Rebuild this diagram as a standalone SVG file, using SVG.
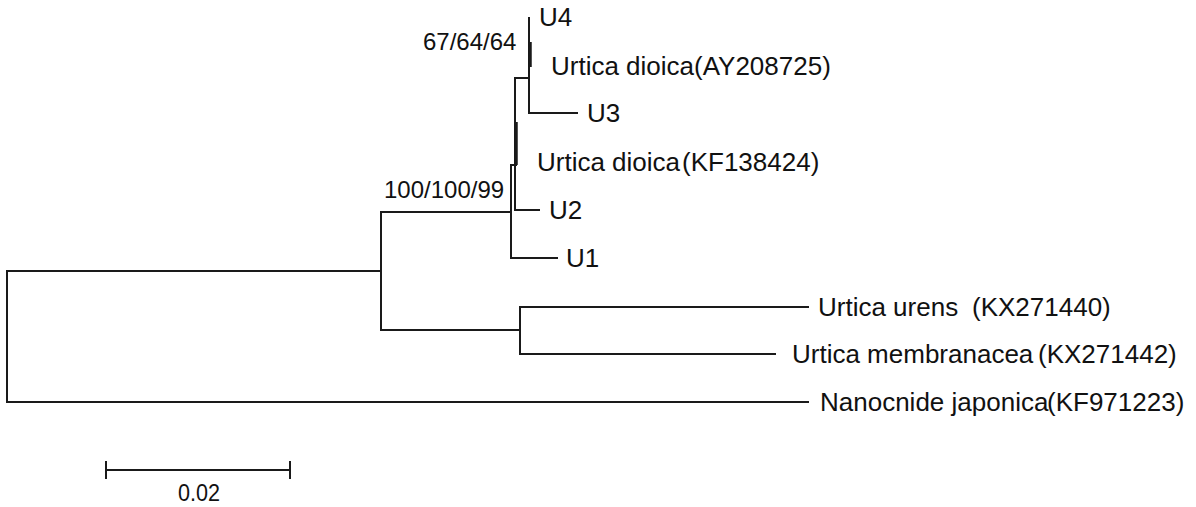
<svg xmlns="http://www.w3.org/2000/svg" width="1196" height="507" viewBox="0 0 1196 507">
<style>
.br{stroke:#1a1a1a;stroke-width:2;fill:none;stroke-linecap:square}
.thick{stroke:#1a1a1a;stroke-width:3.5;fill:none}
.lb{font-family:"Liberation Sans",Arial,sans-serif;font-size:26px;fill:#111}
.bs{font-family:"Liberation Sans",Arial,sans-serif;font-size:24px;fill:#111}
.sc{font-family:"Liberation Sans",Arial,sans-serif;font-size:23px;fill:#111}
</style>
<rect width="1196" height="507" fill="#fff"/>
<g id="connectors">
<path class="br" d="M7,271 V402"/>
<path class="br" d="M7,271 H381"/>
<path class="br" d="M7,402 H808"/>
<path class="br" d="M381,212 V330"/>
<path class="br" d="M381,212 H511"/>
<path class="br" d="M381,330 H520"/>
<path class="br" d="M520,307 V354"/>
<path class="br" d="M520,307 H808"/>
<path class="br" d="M520,354 H775"/>
<path class="br" d="M511,165 V258"/>
<path class="br" d="M511,258 H557"/>
<path class="br" d="M511,165 H516"/>
<path class="br" d="M515,78 V210"/>
<path class="thick" d="M516,122 V165"/>
<path class="br" d="M515,210 H539"/>
<path class="br" d="M515,78 H529"/>
<path class="br" d="M529,18 V113"/>
<path class="thick" d="M530,42 V67"/>
<path class="br" d="M529,113 H577"/>
</g>
<g id="node-U4"><text class="lb" x="539" y="26">U4</text></g>
<g id="node-AY208725"><text class="lb" x="551" y="75">Urtica dioica<tspan x="694">(AY208725)</tspan></text></g>
<g id="node-U3"><text class="lb" x="587" y="122">U3</text></g>
<g id="node-KF138424"><text class="lb" x="537" y="171">Urtica dioica<tspan x="682">(KF138424)</tspan></text></g>
<g id="node-U2"><text class="lb" x="549" y="219">U2</text></g>
<g id="node-U1"><text class="lb" x="566" y="267">U1</text></g>
<g id="node-urens"><text class="lb" x="818" y="316">Urtica urens<tspan x="972">(KX271440)</tspan></text></g>
<g id="node-membranacea"><text class="lb" x="792" y="363">Urtica membranacea<tspan x="1038">(KX271442)</tspan></text></g>
<g id="node-nanocnide"><text class="lb" x="820" y="411">Nanocnide japonica<tspan x="1047">(KF971223)</tspan></text></g>
<g id="bootstrap-1"><text class="bs" x="423" y="50">67/64/64</text></g>
<g id="bootstrap-2"><text class="bs" x="384" y="198">100/100/99</text></g>
<g id="scale-bar">
<path class="br" d="M106,470 H290 M106,462 V478 M290,462 V478"/>
<text class="sc" x="199" y="501" text-anchor="middle" textLength="42" lengthAdjust="spacingAndGlyphs">0.02</text>
</g>
</svg>
